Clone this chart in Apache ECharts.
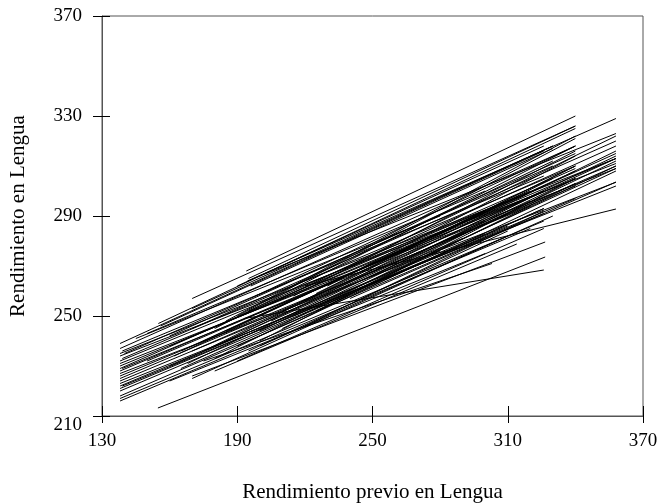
<!DOCTYPE html>
<html>
<head>
<meta charset="utf-8">
<script src="https://cdn.jsdelivr.net/npm/echarts@6/dist/echarts.min.js"></script>
<style>
html,body{margin:0;padding:0;background:#fff;}
#c{width:662px;height:503px;}
</style>
</head>
<body>
<div id="c"></div>
<script>
// Tick values
var xTicks = [130, 190, 250, 310, 370];
var yTicks = [210, 250, 290, 330, 370];
// One regression segment per school: start and end points
var startX = [138,138,139,138,138,139,138,138,138,139,138,138,138,138,138,138,139,138,138,138,138,138,
  155,156,154.8,170,170,170,160,165,162,168,160,170,150,145,165,
  194,194.5,195,200,196,193,198,
  180,185,190,205,210,215,200,185,220,190,200,210,225,180,230,240,175,220,195,230,245,250,
  170,180,175,190,160,220,
  140,138,138,150,160,170,175,185,195,205,210,215,225,235,180,165,200,190];
var startY = [239,237,236,235,234,233,232,231,230,229,228,227,226,225,224,223,222,221,220,218,217,216,
  247,246,213.2,257,253,225,238,240,234,231,230,236,243,241,229,
  268,264,265,266,262,249,258,
  245,248,250,255,252,258,244,240,256,238,240,245,252,233,255,257,236,246,236,262,269,266,
  226,228,232,232,224,262,
  235,229,222,232,242,245,240,244,252,248,260,250,259,262,238,236,238,262];
var endX = [330,340,326,358,358,340,310,358,326,300,340,358,320,340,290,358,326,310,340,300,326,320,
  340,326,326.6,340,330,310,358,320,300,340,280,358,300,280,326,
  340,358,340,358,330,326,340,
  340,340,340,358,340,340,358,358,358,326,340,358,340,300,358,358,330,326,310,340,358,326,
  326.6,314,303,326,300,358,
  330,340,300,326,340,358,340,326,358,340,330,358,340,358,320,310,330,326];
var endY = [318,318,306,313,311,310,296,309,300,288,305,303.5,294,302,281,302,291,286,297,281,288,285,
  325,316,273.6,326,318,282,313,300,292,305,276,310,300,290,293,
  330,329,326,323,317,268.4,318,
  318,322,321,322,310,316,312,314,313,293,305,308,303,287,310,303.6,305,292,284,314,315,300,
  279.6,278.8,271,285,275,292.8,
  310,309,283,300,315,320,308,302,318,303,312,309,310,316,296,296,290,318];

var series = [];
for (var i = 0; i < startX.length; i++) {
  series.push({
    type: 'line',
    data: [[startX[i], startY[i]], [endX[i], endY[i]]],
    showSymbol: false,
    symbol: 'none',
    silent: true,
    lineStyle: {color: '#000', width: 1},
    xAxisIndex: 0,
    yAxisIndex: 0
  });
}

var font = 'Liberation Serif';
var chart = echarts.init(document.getElementById('c'), null, {renderer: 'canvas'});
chart.setOption({
  animation: false,
  backgroundColor: '#fff',
  grid: {left: 102, right: 19, top: 16, bottom: 87, show: true, borderColor: '#555', borderWidth: 1,
    containLabel: false, outerBoundsMode: 'none'},
  xAxis: [{
    type: 'value', position: 'bottom', min: xTicks[0], max: xTicks[xTicks.length-1], interval: 60,
    name: 'Rendimiento previo en Lengua', nameLocation: 'middle', nameGap: 66,
    nameTextStyle: {fontFamily: font, fontSize: 21, color: '#000'},
    axisLine: {show: true, lineStyle: {color: '#555', width: 1}},
    axisTick: {show: true, inside: false, length: 7, lineStyle: {color: '#000'}},
    axisLabel: {margin: 16, fontFamily: font, fontSize: 19, color: '#000', showMinLabel: true, showMaxLabel: true},
    splitLine: {show: false}
  }, {
    // draws the upward half of the bottom ticks
    type: 'value', position: 'top', offset: -400, min: xTicks[0], max: xTicks[xTicks.length-1], interval: 60,
    axisLine: {show: false},
    axisTick: {show: true, inside: false, length: 10, lineStyle: {color: '#000'}},
    axisLabel: {show: false},
    splitLine: {show: false}
  }],
  yAxis: [{
    type: 'value', position: 'left', min: yTicks[0], max: yTicks[yTicks.length-1], interval: 40,
    name: 'Rendimiento en Lengua', nameLocation: 'middle', nameGap: 73,
    nameTextStyle: {fontFamily: font, fontSize: 21, color: '#000'},
    axisLine: {show: true, lineStyle: {color: '#555', width: 1}},
    axisTick: {show: true, inside: false, length: 9, lineStyle: {color: '#000'}},
    axisLabel: {margin: 20, fontFamily: font, fontSize: 19, color: '#000',
      formatter: function (v) { return v === yTicks[0] ? '{lo|' + v + '}' : String(v); },
      rich: {lo: {fontFamily: font, fontSize: 19, color: '#000', padding: [18, 0, 0, 0]}}
    },
    splitLine: {show: false}
  }, {
    // draws the rightward half of the left ticks
    type: 'value', position: 'right', offset: -541, min: yTicks[0], max: yTicks[yTicks.length-1], interval: 40,
    axisLine: {show: false},
    axisTick: {show: true, inside: false, length: 8, lineStyle: {color: '#000'}},
    axisLabel: {show: false},
    splitLine: {show: false}
  }],
  series: series
});
</script>
</body>
</html>
